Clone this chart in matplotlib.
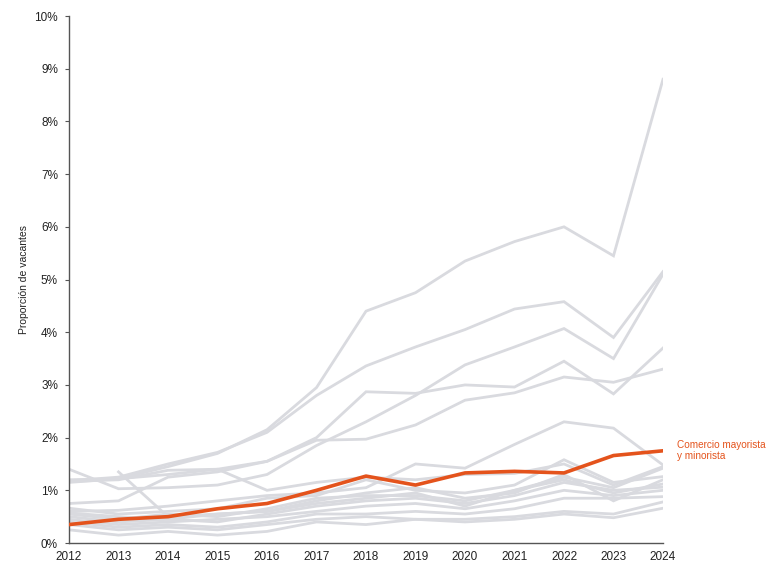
import numpy as np
import matplotlib
matplotlib.use('Agg')
import matplotlib.pyplot as plt
from matplotlib.ticker import FuncFormatter

years = list(range(2012, 2025))

# sector destacado
comercio = [0.35, 0.45, 0.50, 0.65, 0.75, 1.00, 1.27, 1.10, 1.33, 1.36, 1.33, 1.66, 1.75]

# resto de sectores (gris)
g1 = [1.20, 1.22, 1.45, 1.70, 2.15, 2.95, 4.40, 4.75, 5.35, 5.72, 6.00, 5.45, 8.80]
g2 = [1.18, 1.25, 1.50, 1.72, 2.10, 2.80, 3.36, 3.72, 4.05, 4.44, 4.58, 3.90, 5.15]
g3 = [1.40, 1.03, 1.05, 1.10, 1.30, 1.85, 2.30, 2.80, 3.38, 3.72, 4.07, 3.50, 5.10]
g4 = [1.17, 1.20, 1.38, 1.40, 1.55, 2.00, 2.87, 2.84, 3.00, 2.96, 3.45, 2.83, 3.70]
g5 = [0.75, 0.80, 1.25, 1.35, 1.55, 1.95, 1.97, 2.24, 2.71, 2.85, 3.15, 3.05, 3.30]
g6 = [1.15, 1.22, 1.30, 1.40, 1.00, 1.15, 1.25, 1.20, 1.30, 1.32, 1.50, 1.10, 1.45]
g7 = [0.60, 0.62, 0.70, 0.80, 0.90, 0.95, 1.05, 1.50, 1.42, 1.87, 2.30, 2.18, 1.48]
g8 = [np.nan, 1.35, 0.50, 0.55, 0.60, 0.75, 0.85, 0.95, 0.70, 1.00, 1.25, 1.05, 1.42]
g9 = [0.66, 0.55, 0.60, 0.65, 0.85, 0.90, 1.20, 1.00, 0.95, 1.10, 1.58, 1.15, 1.26]
g10 = [0.57, 0.50, 0.45, 0.55, 0.60, 0.80, 0.95, 1.05, 0.85, 0.95, 1.30, 0.80, 1.20]
g11 = [0.50, 0.40, 0.45, 0.40, 0.55, 0.70, 0.80, 0.85, 0.75, 0.90, 1.15, 1.00, 1.06]
g12 = [0.45, 0.35, 0.40, 0.45, 0.50, 0.60, 0.70, 0.75, 0.65, 0.80, 1.00, 0.90, 1.00]
g13 = [0.40, 0.30, 0.35, 0.30, 0.40, 0.55, 0.55, 0.60, 0.55, 0.65, 0.85, 0.85, 0.88]
g14 = [0.35, 0.25, 0.30, 0.25, 0.35, 0.45, 0.50, 0.45, 0.45, 0.50, 0.60, 0.55, 0.78]
g15 = [0.25, 0.15, 0.22, 0.15, 0.22, 0.40, 0.35, 0.45, 0.40, 0.45, 0.55, 0.48, 0.66]
g16 = [0.55, 0.45, 0.55, 0.50, 0.65, 0.85, 0.90, 0.90, 0.80, 1.00, 1.20, 0.95, 1.12]
otros = [g1, g2, g3, g4, g5, g6, g7, g8, g9, g10, g11, g12, g13, g14, g15, g16]

plt.rcParams['font.family'] = ['Liberation Sans', 'DejaVu Sans']

fig = plt.figure(figsize=(7.67, 5.63), dpi=100)
ax = fig.add_axes([0.09, 0.0355, 0.7744, 0.936])

for serie in otros:
    ax.plot(years, serie, color='#d9dadf', lw=2, solid_joinstyle='miter')
ax.plot(years, comercio, color='#e4531c', lw=2.6, zorder=5)

ax.text(2024.28, 1.75, 'Comercio mayorista\ny minorista', color='#e4531c',
        fontsize=7.2, va='center', ha='left', clip_on=False, linespacing=1.1)

ax.set_xlim(2012, 2024)
ax.set_ylim(0, 10)
ax.set_xticks(years)
ax.set_yticks(range(0, 11))
ax.yaxis.set_major_formatter(FuncFormatter(lambda v, p: f'{int(v)}%'))
ax.tick_params(axis='x', length=0, pad=6, labelsize=8.5, colors='#222222')
ax.tick_params(axis='y', length=3, width=0.8, pad=5, labelsize=8.5,
               colors='#555555', labelcolor='#222222')
ax.set_ylabel('Proporción de vacantes', fontsize=7.5, color='#222222', labelpad=4)

for s in ['top', 'right']:
    ax.spines[s].set_visible(False)
for s in ['left', 'bottom']:
    ax.spines[s].set_color('#555555')
    ax.spines[s].set_linewidth(1)

fig.savefig('out.png', dpi=100)
